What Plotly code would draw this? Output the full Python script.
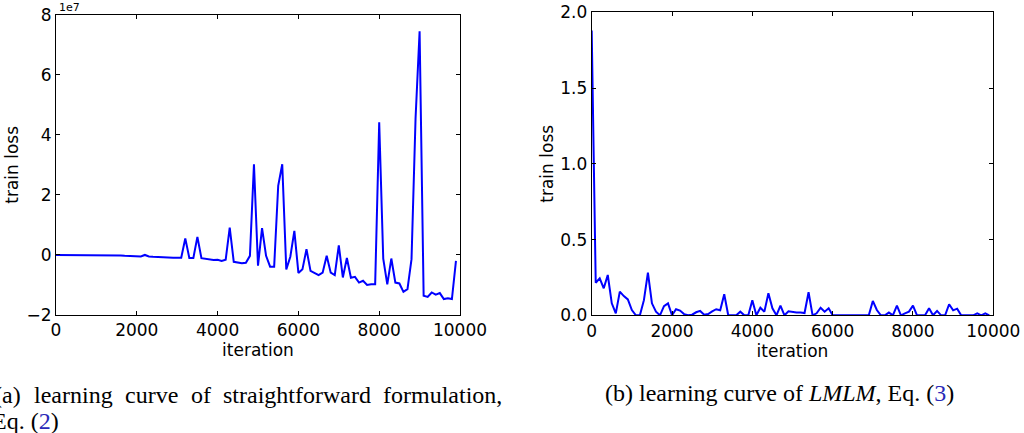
import plotly.graph_objects as go

# ---------------- data ----------------
iteration = list(range(0, 10000, 100))

# (a) straightforward formulation, train loss (values in units of 1e7)
loss_a_1e7 = [
    0.00, 0.00, 0.00, 0.00, 0.00, 0.00, 0.00, 0.00, 0.00, 0.00,
    0.00, 0.00, 0.00, -0.01, -0.01, -0.02, -0.02, -0.03, -0.03, -0.04,
    -0.04, -0.05, 0.00, -0.05, -0.06, -0.07, -0.07, -0.08, -0.08, -0.09,
    -0.09, -0.09, 0.55, -0.10, -0.10, 0.60, -0.11, -0.13, -0.16, -0.17,
    -0.16, -0.20, -0.16, 0.91, -0.23, -0.25, -0.28, -0.26, -0.03, 3.02,
    -0.36, 0.89, -0.03, -0.39, -0.39, 2.30, 3.02, -0.48, -0.06, 0.80,
    -0.60, -0.48, 0.19, -0.53, -0.59, -0.67, -0.59, -0.03, -0.59, -0.67,
    0.32, -0.75, -0.10, -0.76, -0.73, -0.92, -0.86, -1.00, -0.98, -0.98,
    4.42, -0.12, -0.98, -0.12, -0.92, -0.95, -1.23, -1.14, -0.14, 4.55,
    7.45, -1.36, -1.40, -1.25, -1.32, -1.27, -1.47, -1.44, -1.47, -0.20,
]
loss_a = [v * 1e7 for v in loss_a_1e7]

# (b) LMLM, train loss
loss_b = [
    1.88, 0.215, 0.244, 0.178, 0.266, 0.079, 0.013, 0.156, 0.127, 0.105,
    0.035, 0.0, 0.0, 0.10, 0.281, 0.079, 0.024, 0.0, 0.061, 0.079,
    0.0, 0.040, 0.031, 0.008, 0.0, 0.004, 0.020, 0.029, 0.004, 0.008,
    0.026, 0.040, 0.033, 0.139, 0.0, 0.0, 0.0, 0.024, 0.0, 0.0,
    0.100, 0.0, 0.050, 0.024, 0.145, 0.046, 0.0, 0.064, 0.0, 0.026,
    0.020, 0.018, 0.018, 0.015, 0.152, 0.0, 0.013, 0.050, 0.024, 0.046,
    0.0, 0.0, 0.004, 0.0, 0.004, 0.0, 0.0, 0.004, 0.004, 0.0,
    0.095, 0.035, 0.0, 0.0, 0.018, 0.0, 0.064, 0.0, 0.013, 0.024,
    0.064, 0.0, 0.0, 0.0, 0.046, 0.0, 0.029, 0.0, 0.0, 0.073,
    0.033, 0.044, 0.0, 0.0, 0.0, 0.0, 0.013, 0.0, 0.013, 0.0,
]

x_ticks = [0, 2000, 4000, 6000, 8000, 10000]
ya_ticks = [-2e7, 0, 2e7, 4e7, 6e7, 8e7]
ya_ticktext = ["\u22122", "0", "2", "4", "6", "8"]
yb_ticks = [0.0, 0.5, 1.0, 1.5, 2.0]
yb_ticktext = ["0.0", "0.5", "1.0", "1.5", "2.0"]

caption_a_words = ["(a)", "learning", "curve", "of", "straightforward", "formulation,"]
caption_a_line2 = "Eq. (<span style='color:#2a2ab8'>2</span>)"
caption_b = "(b) learning curve of <i>LMLM</i>, Eq. (<span style='color:#2a2ab8'>3</span>)"

# ---------------- figure ----------------
W, H = 1024, 433
TICKFONT = dict(family="DejaVu Sans", size=17, color="black")
SERIF = "Liberation Serif"

fig = go.Figure()
fig.add_trace(go.Scatter(x=iteration, y=loss_a, mode="lines",
                         line=dict(color="#0000ff", width=2),
                         xaxis="x", yaxis="y", showlegend=False))
fig.add_trace(go.Scatter(x=iteration, y=loss_b, mode="lines",
                         line=dict(color="#0000ff", width=2),
                         xaxis="x2", yaxis="y2", showlegend=False))

def px_x(p):
    return p / W

def px_y(p):
    return 1 - p / H

axis_common = dict(showgrid=False, zeroline=False, showline=True, linecolor="black",
                   linewidth=1, mirror="allticks", ticks="inside", ticklen=4,
                   tickwidth=1, tickcolor="black", tickfont=TICKFONT, automargin=False)

fig.update_layout(
    width=W, height=H,
    margin=dict(l=0, r=0, t=0, b=0, autoexpand=False),
    paper_bgcolor="white", plot_bgcolor="white",
    xaxis=dict(domain=[px_x(56), px_x(460)], range=[0, 10000], anchor="y",
               tickvals=x_ticks, ticktext=[str(t) for t in x_ticks],
               title=dict(text="iteration", font=TICKFONT, standoff=2),
               **axis_common),
    yaxis=dict(domain=[px_y(315), px_y(14.7)], range=[-2e7, 8e7], anchor="x",
               tickvals=ya_ticks, ticktext=ya_ticktext,
               title=dict(text="train loss", font=TICKFONT, standoff=3),
               **axis_common),
    xaxis2=dict(domain=[px_x(591.7), px_x(993.3)], range=[0, 10000], anchor="y2",
                tickvals=x_ticks, ticktext=[str(t) for t in x_ticks],
                title=dict(text="iteration", font=TICKFONT, standoff=2),
                **axis_common),
    yaxis2=dict(domain=[px_y(315.3), px_y(12.3)], range=[0, 2.0], anchor="x2",
                tickvals=yb_ticks, ticktext=yb_ticktext,
                title=dict(text="train loss", font=TICKFONT, standoff=2),
                **axis_common),
)

# exponent label of panel (a)
fig.add_annotation(text="1e7", x=px_x(57), y=px_y(8), xref="paper", yref="paper",
                   xanchor="left", yanchor="middle", showarrow=False,
                   font=dict(family="DejaVu Sans", size=11, color="black"))

# caption (a), justified first line
cap_a_x = [-8, 32.3, 123.2, 188.8, 221.1, 381.4]
for word, xp in zip(caption_a_words, cap_a_x):
    fig.add_annotation(text=word, x=px_x(xp), y=px_y(395), xref="paper", yref="paper",
                       xanchor="left", yanchor="middle", showarrow=False,
                       font=dict(family=SERIF, size=24, color="black"))
fig.add_annotation(text=caption_a_line2, x=px_x(-9.6), y=px_y(421), xref="paper", yref="paper",
                   xanchor="left", yanchor="middle", showarrow=False,
                   font=dict(family=SERIF, size=24, color="black"))

# caption (b)
fig.add_annotation(text=caption_b, x=px_x(779), y=px_y(393), xref="paper", yref="paper",
                   xanchor="center", yanchor="middle", showarrow=False,
                   font=dict(family=SERIF, size=24, color="black"))

fig.write_html("out.html",
               config={"displayModeBar": False, "staticPlot": True},
               post_script="document.body.style.margin='0';document.body.style.overflow='hidden';")
